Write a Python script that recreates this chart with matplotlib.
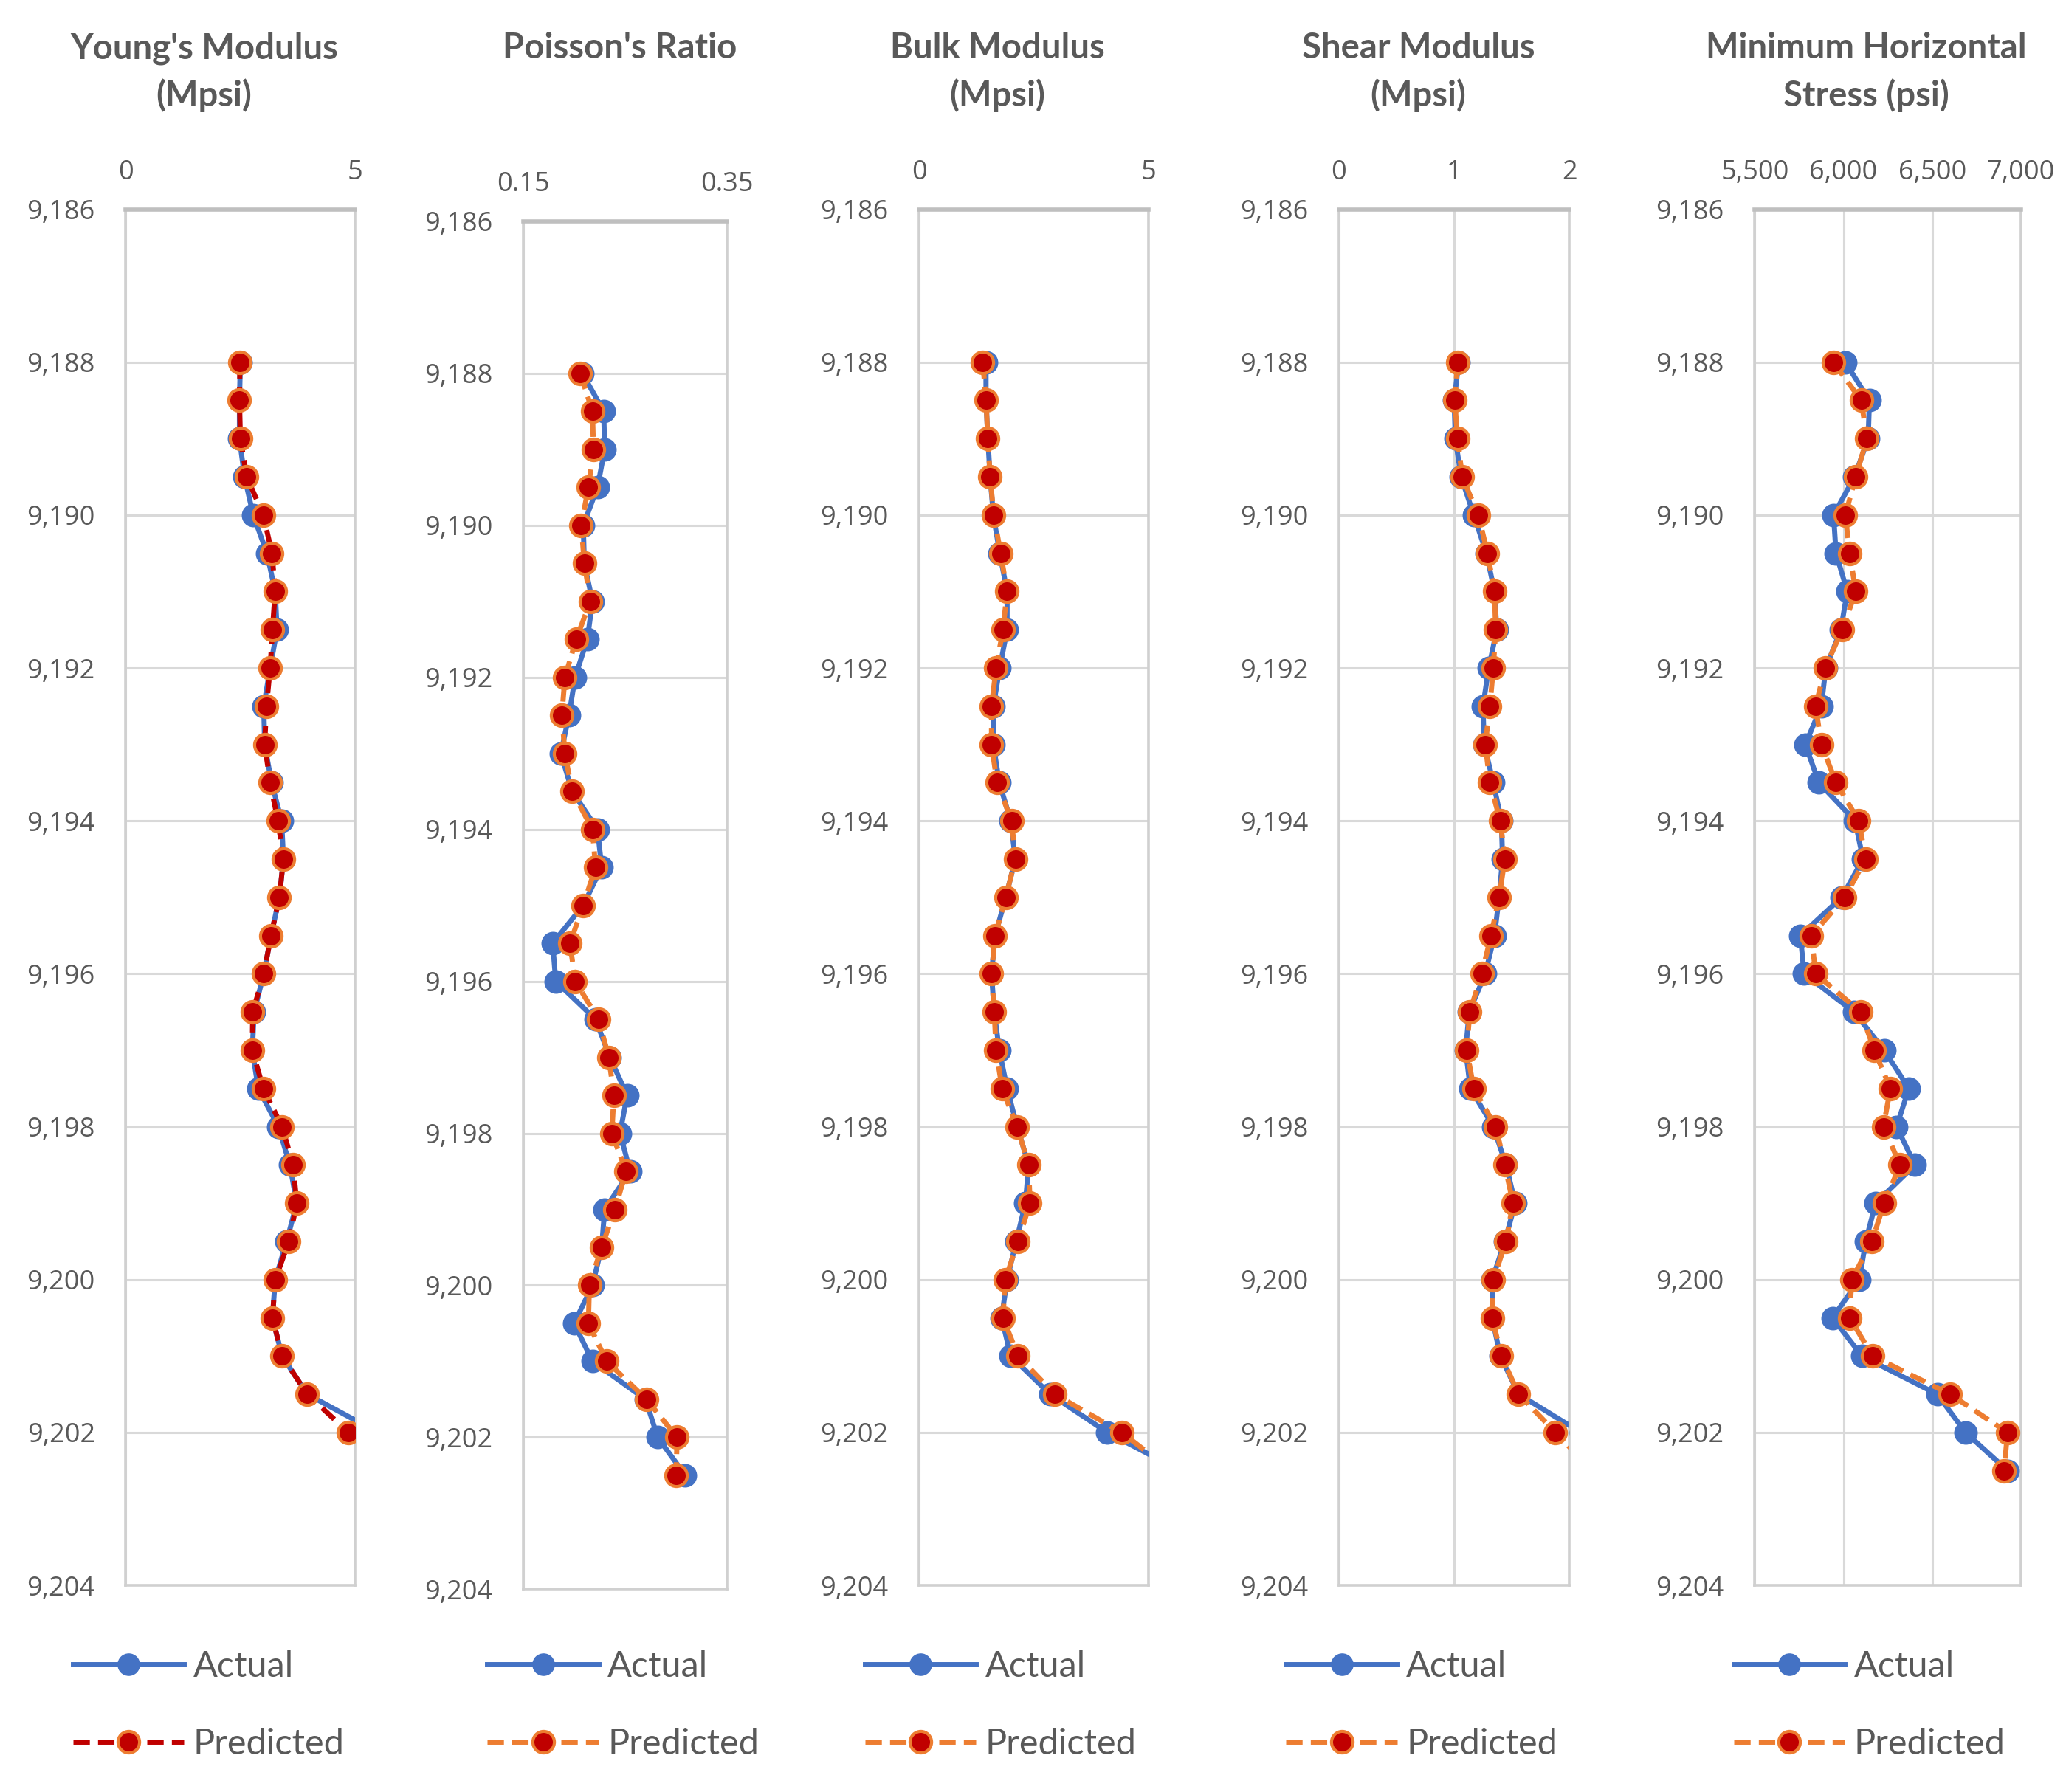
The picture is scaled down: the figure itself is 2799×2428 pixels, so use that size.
import numpy as np
import matplotlib
matplotlib.use("Agg")
import matplotlib.pyplot as plt
from matplotlib.lines import Line2D
from matplotlib.ticker import FuncFormatter, FixedLocator

nan = np.nan
depth = [9188.0, 9188.5, 9189.0, 9189.5, 9190.0, 9190.5, 9191.0, 9191.5, 9192.0, 9192.5,
         9193.0, 9193.5, 9194.0, 9194.5, 9195.0, 9195.5, 9196.0, 9196.5, 9197.0, 9197.5,
         9198.0, 9198.5, 9199.0, 9199.5, 9200.0, 9200.5, 9201.0, 9201.5, 9202.0, 9202.5]

young_actual = [2.50, 2.48, 2.48, 2.59, 2.78, 3.08, 3.26, 3.30, 3.15, 3.01, 3.03, 3.18, 3.40, 3.44, 3.35,
                3.17, 3.01, 2.80, 2.76, 2.89, 3.33, 3.58, 3.73, 3.51, 3.26, 3.20, 3.41, 3.96, 5.50, nan]
young_pred = [2.49, 2.48, 2.50, 2.64, 3.00, 3.19, 3.26, 3.20, 3.15, 3.07, 3.03, 3.15, 3.32, 3.44, 3.35,
              3.17, 3.01, 2.77, 2.76, 3.00, 3.41, 3.65, 3.73, 3.56, 3.26, 3.20, 3.41, 3.96, 4.86, nan]

poisson_actual = [0.208, 0.229, 0.230, 0.223, 0.209, 0.210, 0.218, 0.213, 0.201, 0.195, 0.187, 0.198, 0.223,
                  0.227, 0.209, 0.179, 0.182, 0.221, 0.235, 0.252, 0.245, 0.255, 0.230, 0.227, 0.218, 0.200,
                  0.218, 0.270, 0.282, 0.309]
poisson_pred = [0.206, 0.218, 0.219, 0.214, 0.207, 0.210, 0.216, 0.202, 0.191, 0.188, 0.191, 0.198, 0.218,
                0.221, 0.209, 0.196, 0.201, 0.224, 0.234, 0.239, 0.237, 0.251, 0.240, 0.227, 0.215, 0.214,
                0.232, 0.271, 0.301, 0.300]

bulk_actual = [1.46, 1.46, 1.50, 1.55, 1.62, 1.76, 1.92, 1.92, 1.76, 1.62, 1.62, 1.75, 2.00, 2.10, 1.89,
               1.66, 1.58, 1.64, 1.75, 1.92, 2.14, 2.39, 2.32, 2.12, 1.92, 1.80, 2.00, 2.86, 4.11, 5.70]
bulk_pred = [1.39, 1.46, 1.50, 1.55, 1.63, 1.78, 1.92, 1.83, 1.68, 1.58, 1.58, 1.70, 2.02, 2.10, 1.89,
             1.66, 1.58, 1.64, 1.68, 1.81, 2.14, 2.39, 2.42, 2.16, 1.88, 1.83, 2.16, 2.96, 4.42, 5.50]

shear_actual = [1.04, 1.00, 1.01, 1.06, 1.17, 1.28, 1.35, 1.37, 1.30, 1.25, 1.26, 1.34, 1.41, 1.42, 1.39,
                1.35, 1.27, 1.13, 1.10, 1.14, 1.34, 1.45, 1.53, 1.44, 1.33, 1.33, 1.40, 1.56, 2.10, 2.40]
shear_pred = [1.03, 1.005, 1.03, 1.07, 1.21, 1.29, 1.35, 1.36, 1.34, 1.31, 1.27, 1.31, 1.40, 1.44, 1.39,
              1.32, 1.24, 1.135, 1.11, 1.17, 1.36, 1.44, 1.51, 1.45, 1.34, 1.33, 1.41, 1.56, 1.88, 2.20]

minh_actual = [6010, 6146, 6139, 6062, 5944, 5958, 6021, 5985, 5900, 5875, 5785, 5861, 6065, 6110, 5990,
               5757, 5778, 6060, 6229, 6368, 6299, 6403, 6181, 6125, 6090, 5938, 6104, 6528, 6688, 6925]
minh_pred = [5942, 6100, 6132, 6069, 6010, 6035, 6069, 5993, 5896, 5843, 5875, 5958, 6086, 6125, 6007,
             5819, 5843, 6097, 6174, 6264, 6225, 6319, 6229, 6160, 6046, 6035, 6164, 6601, 6924, 6905]

titles = ["Young's Modulus\n(Mpsi)", "Poisson's Ratio", "Bulk Modulus\n(Mpsi)",
          "Shear Modulus\n(Mpsi)", "Minimum Horizontal\nStress (psi)"]
xlims = [(0, 5), (0.15, 0.35), (0, 5), (0, 2), (5500, 7000)]
xticks = [[0, 5], [0.15, 0.35], [0, 5], [0, 1, 2], [5500, 6000, 6500, 7000]]
xtick_labels = [["0", "5"], ["0.15", "0.35"], ["0", "5"], ["0", "1", "2"],
                ["5,500", "6,000", "6,500", "7,000"]]
yticks = [9186, 9188, 9190, 9192, 9194, 9196, 9198, 9200, 9202, 9204]
actual_series = [young_actual, poisson_actual, bulk_actual, shear_actual, minh_actual]
pred_series = [young_pred, poisson_pred, bulk_pred, shear_pred, minh_pred]
pred_line_colors = ["#C00000", "#ED7D31", "#ED7D31", "#ED7D31", "#ED7D31"]

BLUE = "#4472C4"
ORANGE = "#ED7D31"
DARKRED = "#C00000"
TXT = "#595959"
GRID = "#D9D9D9"

W, H = 1560.0, 1353.0
# panel boxes in reference display pixels: (left, top, right, bottom)
boxes = [(95, 158, 268, 1197), (395, 167, 549, 1200), (694, 158, 867, 1197),
         (1011, 158, 1185, 1197), (1325, 158, 1526, 1197)]
title_cx = [154, 468, 753, 1071, 1409]
legend_x = [55, 368, 653, 971, 1309]

fig = plt.figure(figsize=(27.99, 24.28), dpi=100)
fig.patch.set_facecolor("white")

comma_fmt = FuncFormatter(lambda v, p: f"{int(round(v)):,}")

for i in range(5):
    l, t, r, b = boxes[i]
    ax = fig.add_axes([l / W, 1 - b / H, (r - l) / W, (b - t) / H])
    ax.set_xlim(*xlims[i])
    ax.set_ylim(9204, 9186)
    ax.xaxis.set_major_locator(FixedLocator(xticks[i]))
    ax.set_xticklabels(xtick_labels[i])
    ax.yaxis.set_major_locator(FixedLocator(yticks))
    ax.yaxis.set_major_formatter(comma_fmt)
    ax.xaxis.tick_top()
    ax.tick_params(axis="both", length=0, labelsize=26, labelcolor=TXT)
    ax.tick_params(axis="x", pad=23)
    ax.tick_params(axis="y", pad=30)
    for lab in ax.get_xticklabels() + ax.get_yticklabels():
        lab.set_fontfamily("Open Sans")
    ax.grid(True, color=GRID, linewidth=2.2, zorder=0)
    ax.set_axisbelow(True)
    for s in ["left", "right", "bottom"]:
        ax.spines[s].set_color("#D0D0D0")
        ax.spines[s].set_linewidth(2.6)
    ax.spines["top"].set_color("#BFBFBF")
    ax.spines["top"].set_linewidth(4)

    ax.plot(actual_series[i], depth, color=BLUE, linewidth=5, marker="o",
            markersize=21, markerfacecolor=BLUE, markeredgecolor=BLUE,
            markeredgewidth=2, zorder=3, label="Actual")
    ax.plot(pred_series[i], depth, color=pred_line_colors[i], linewidth=5,
            linestyle=(0, (3.2, 1.6)), marker="o", markersize=21,
            markerfacecolor=DARKRED, markeredgecolor=ORANGE, markeredgewidth=3,
            zorder=4, label="Predicted")

    fig.text(title_cx[i] / W, 1 - 24 / H, titles[i], ha="center", va="top",
             fontsize=34, fontweight="bold", color=TXT, family="Lato",
             linespacing=1.5)

    handles = [
        Line2D([], [], color=BLUE, linewidth=5, marker="o", markersize=21,
               markerfacecolor=BLUE, markeredgecolor=BLUE),
        Line2D([], [], color=pred_line_colors[i], linewidth=5, linestyle=(0, (3.2, 1.6)),
               marker="o", markersize=21, markerfacecolor=DARKRED,
               markeredgecolor=ORANGE, markeredgewidth=3),
    ]
    leg = fig.legend(handles, ["Actual", "Predicted"], loc="upper left",
                     bbox_to_anchor=(legend_x[i] / W, 1 - 1246 / H),
                     frameon=False, handlelength=3.1,
                     handletextpad=0.25, labelspacing=1.25, borderpad=0,
                     borderaxespad=0, numpoints=1,
                     prop={"family": "Lato", "size": 35})
    for txt in leg.get_texts():
        txt.set_color(TXT)

fig.savefig("out.png", dpi=100, facecolor="white")
